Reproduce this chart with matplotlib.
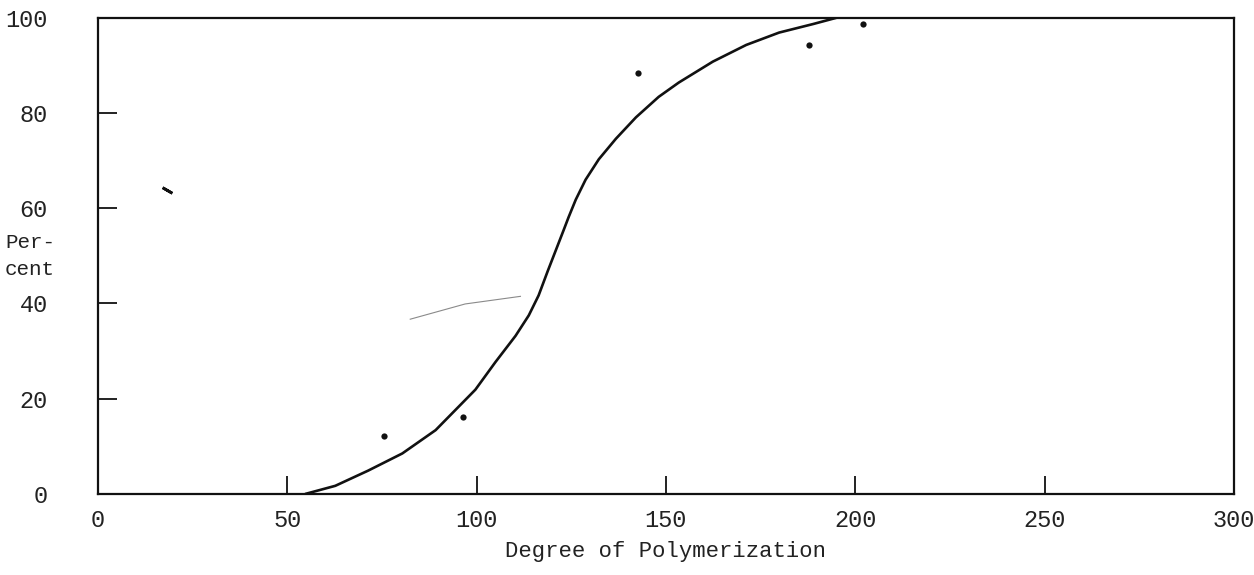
import matplotlib.pyplot as plt
from matplotlib.transforms import ScaledTranslation

# Curve (degree of polymerization vs percent)
curve_dp = [54.8, 62.7, 71.4, 80.4, 89.2, 99.7, 105.0, 110.3, 113.8,
            116.4, 118.8, 120.9, 123.0, 124.3, 126.2, 128.8, 132.3, 136.8,
            142.1, 148.1, 153.4, 162.4, 171.2, 179.9, 188.9, 195.0]
curve_pct = [0.0, 1.7, 4.9, 8.5, 13.4, 21.9, 27.7, 33.2, 37.5,
             41.7, 46.8, 51.1, 55.4, 58.1, 61.8, 66.0, 70.3, 74.6,
             79.1, 83.4, 86.4, 90.8, 94.3, 96.9, 98.7, 100.0]

# Plotted observations (dots)
point_dp = [75.7, 96.3, 142.6, 187.8, 202.1]
point_pct = [12.1, 16.2, 88.4, 94.2, 98.8]

# Stray marks on the original sheet
dash_dp = [18.3]
dash_pct = [63.8]
stroke_dp = [82.5, 97.0, 111.6]
stroke_pct = [36.7, 39.9, 41.5]

x_ticks = [0, 50, 100, 150, 200, 250, 300]
y_ticks = [0, 20, 40, 60, 80, 100]

FONT = 'Liberation Mono'
INK = '#111111'
TEXT = '#222222'


def main():
    fig = plt.figure(figsize=(12.54, 5.75), dpi=100)
    ax = fig.add_axes([0.078, 0.141, 0.906, 0.828])

    ax.plot(curve_dp, curve_pct, color=INK, lw=1.9,
            solid_capstyle='round', solid_joinstyle='round')
    ax.plot(point_dp, point_pct, 'o', color=INK, ms=4.5, mec='none')
    ax.plot(dash_dp, dash_pct, marker=(2, 2, 60), color=INK,
            ms=8, mew=2, ls='none')
    ax.plot(stroke_dp, stroke_pct, color='#8a8a8a', lw=0.8)

    ax.set_xlim(0, 300)
    ax.set_ylim(0, 100)
    ax.set_xticks(x_ticks)
    ax.set_yticks(y_ticks)
    ax.set_xticklabels([str(t) for t in x_ticks], family=FONT, fontsize=17,
                       color=TEXT)
    ax.set_yticklabels([str(t) for t in y_ticks], family=FONT, fontsize=17,
                       color=TEXT, ha='right')

    # hand-lettered x labels sit a little left of their ticks
    shift = ScaledTranslation(-6 / 72, 0, fig.dpi_scale_trans)
    for label in ax.get_xticklabels():
        label.set_transform(label.get_transform() + shift)

    ax.tick_params(axis='x', direction='in', length=13, width=1.3, pad=11,
                   color=INK)
    ax.tick_params(axis='y', direction='in', length=14, width=1.3, pad=36,
                   color=INK)

    for spine in ax.spines.values():
        spine.set_linewidth(1.6)
        spine.set_color(INK)

    ax.set_xlabel('Degree of Polymerization', family=FONT, fontsize=16,
                  color=TEXT, labelpad=6)
    fig.text(0.004, 0.555, 'Per-\ncent', family=FONT, fontsize=15,
             color=TEXT, ha='left', va='center', linespacing=1.5)

    fig.savefig('out.png', dpi=100, facecolor='white')


if __name__ == '__main__':
    main()
